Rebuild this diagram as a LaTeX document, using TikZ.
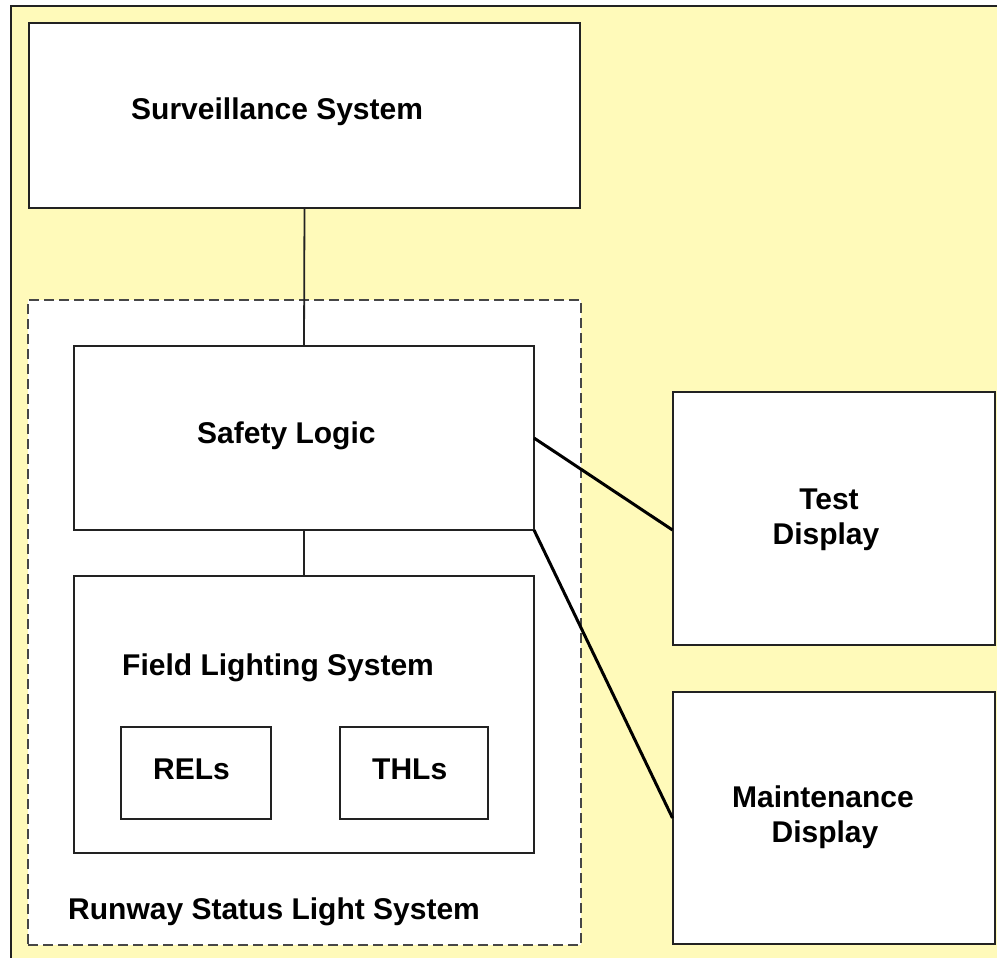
\documentclass[tikz,border=0pt]{standalone}
\usepackage{fontspec}
\setmainfont{Liberation Sans}
\usetikzlibrary{calc}
\definecolor{bgyellow}{RGB}{255,250,186}
\definecolor{edge}{RGB}{34,34,34}
\definecolor{dashgray}{RGB}{70,70,70}
\begin{document}
\begin{tikzpicture}[x=1pt,y=-1pt,
  box/.style={draw=edge, line width=2pt, fill=white, rectangle, inner sep=0pt, outer sep=0pt},
  groupbox/.style={draw=dashgray, line width=2.2pt, dash pattern=on 10pt off 5pt, fill=white, rectangle, inner sep=0pt, outer sep=0pt},
  lbl/.style={anchor=base west, inner sep=0pt, font=\fontsize{30}{35}\selectfont\bfseries},
  lblc/.style={anchor=base, inner sep=0pt, font=\fontsize{30}{35}\selectfont\bfseries},
  link/.style={line width=1.8pt, draw=edge},
  heavylink/.style={line width=3pt, draw=black}]
\useasboundingbox (0,0) rectangle (997,958);
\clip (0,0) rectangle (997,958);
% background frame
\draw[fill=bgyellow, draw=edge, line width=2pt] (11,6) rectangle (1012,975);
% boxes
\node[groupbox, minimum width=553pt, minimum height=645pt] (rsls) at (304.5,622.5) {};
\node[box, minimum width=551pt, minimum height=185pt] (surv) at (304.5,115.5) {};
\node[box, minimum width=460pt, minimum height=184pt] (safety) at (304,438) {};
\node[box, minimum width=460pt, minimum height=277pt] (field) at (304,714.5) {};
\node[box, minimum width=150pt, minimum height=92pt] (rels) at (196,773) {};
\node[box, minimum width=148pt, minimum height=92pt] (thls) at (414,773) {};
\node[box, minimum width=322pt, minimum height=253pt] (test) at (833.5,518.5) {};
\node[box, minimum width=322pt, minimum height=252pt] (maint) at (833.5,818) {};
% connectors
\draw[link] (surv.south) -- (safety.north);
\draw[link] (safety.south) -- (field.north);
\draw[heavylink] (safety.east) -- ([yshift=-11.5pt]test.west);
\draw[heavylink] (safety.south east) -- (maint.west);
% labels
\node[lbl] (tsurv) at (131,120) {Surveillance System};
\node[lbl] (tsafety) at (197,443) {Safety Logic};
\node[lbl] (tfield) at (122,675) {Field Lighting System};
\node[lbl] (trels) at (153,779) {RELs};
\node[lbl] (tthls) at (372,779) {THLs};
\node[lbl] (trsls) at (68,919) {Runway Status Light System};
\node[lblc] (ttest1) at (829,509) {Test};
\node[lblc] (ttest2) at (826,544) {Display};
\node[lblc] (tmaint1) at (823,807) {Maintenance};
\node[lblc] (tmaint2) at (825,842) {Display};
\end{tikzpicture}
\end{document}
